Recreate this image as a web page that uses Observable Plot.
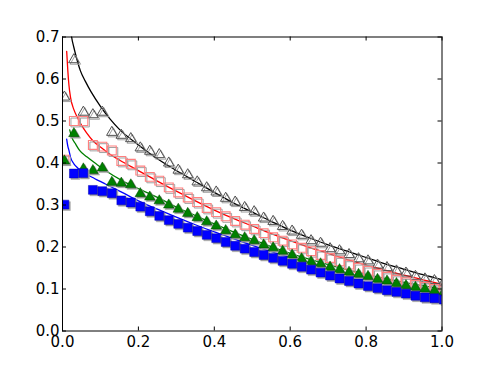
<!DOCTYPE html>
<html>
<head>
<meta charset="utf-8">
<script src="https://cdn.jsdelivr.net/npm/d3@7"></script>
<script src="https://cdn.jsdelivr.net/npm/@observablehq/plot@0.6"></script>
<style>
  html, body { margin: 0; padding: 0; background: #fff; }
  svg { display: block; }
</style>
</head>
<body>
<div id="chart"></div>
<script>
// Marker x positions
const xs = [0.005,0.03,0.055,0.08,0.105,0.13,0.155,0.18,0.205,0.23,0.255,0.28,0.305,0.33,0.355,0.38,0.405,0.43,0.455,0.48,0.505,0.53,0.555,0.58,0.605,0.63,0.655,0.68,0.705,0.73,0.755,0.78,0.805,0.83,0.855,0.88,0.905,0.93,0.955,0.98,1.005];

// Marker series
const grayTri = [0.557,0.646,0.521,0.515,0.521,0.473,0.466,0.458,0.436,0.428,0.42,0.40,0.383,0.372,0.355,0.341,0.331,0.316,0.307,0.294,0.284,0.269,0.261,0.249,0.238,0.228,0.215,0.209,0.196,0.191,0.182,0.172,0.167,0.157,0.151,0.143,0.138,0.130,0.124,0.120,0.116];
const pinkSq = [0.408,0.50,0.50,0.443,0.439,0.43,0.405,0.398,0.382,0.367,0.358,0.342,0.33,0.318,0.307,0.293,0.283,0.273,0.262,0.253,0.243,0.233,0.223,0.215,0.206,0.198,0.19,0.181,0.174,0.166,0.158,0.150,0.143,0.136,0.129,0.122,0.116,0.11,0.105,0.10,0.096];
const greenTri = [0.405,0.47,0.386,0.382,0.388,0.354,0.352,0.348,0.327,0.319,0.31,0.30,0.29,0.28,0.27,0.26,0.25,0.239,0.229,0.222,0.215,0.205,0.198,0.19,0.181,0.172,0.165,0.16,0.152,0.146,0.14,0.135,0.13,0.123,0.119,0.113,0.108,0.104,0.1,0.096,0.093];
const blueSq = [0.301,0.375,0.376,0.336,0.333,0.328,0.311,0.306,0.296,0.285,0.274,0.264,0.255,0.246,0.238,0.229,0.221,0.212,0.203,0.196,0.188,0.181,0.174,0.167,0.16,0.153,0.146,0.139,0.132,0.125,0.119,0.113,0.107,0.102,0.097,0.093,0.089,0.084,0.080,0.078,0.075];

// Curves
const blackX = [0.02,0.024,0.03,0.037,0.047,0.06,0.075,0.1,0.125,0.15,0.2,0.25,0.3,0.35,0.4,0.45,0.5,0.55,0.6,0.65,0.7,0.75,0.8,0.85,0.9,0.95,1];
const blackY = [0.73,0.70,0.675,0.65,0.62,0.595,0.57,0.535,0.505,0.48,0.443,0.41,0.382,0.356,0.33,0.305,0.283,0.261,0.24,0.222,0.205,0.19,0.175,0.16,0.147,0.134,0.122];
const redX = [0.011,0.014,0.017,0.021,0.03,0.039,0.05,0.065,0.08,0.1,0.125,0.15,0.2,0.25,0.3,0.35,0.4,0.45,0.5,0.55,0.6,0.65,0.7,0.75,0.8,0.85,0.9,0.95,1];
const redY = [0.666,0.62,0.585,0.557,0.527,0.509,0.49,0.47,0.453,0.438,0.421,0.407,0.382,0.357,0.333,0.31,0.288,0.268,0.25,0.232,0.215,0.199,0.185,0.17,0.157,0.145,0.133,0.122,0.111];
const greenX = [0.019,0.025,0.034,0.045,0.065,0.09,0.113,0.157,0.21,0.25,0.3,0.35,0.4,0.45,0.5,0.55,0.6,0.65,0.7,0.75,0.8,0.85,0.9,0.95,1];
const greenY = [0.479,0.46,0.446,0.43,0.414,0.397,0.382,0.358,0.335,0.318,0.295,0.275,0.255,0.236,0.218,0.201,0.185,0.171,0.158,0.146,0.135,0.125,0.116,0.108,0.1];
const blueX = [0.011,0.014,0.017,0.021,0.03,0.04,0.052,0.065,0.078,0.095,0.113,0.157,0.2,0.25,0.3,0.35,0.4,0.45,0.5,0.55,0.6,0.65,0.7,0.75,0.8,0.85,0.9,0.95,1];
const blueY = [0.457,0.44,0.43,0.414,0.398,0.388,0.378,0.372,0.366,0.358,0.35,0.33,0.31,0.29,0.271,0.253,0.236,0.22,0.204,0.189,0.175,0.162,0.149,0.137,0.126,0.115,0.104,0.094,0.085];

// Ticks
const xTicks = [0, 0.2, 0.4, 0.6, 0.8, 1.0];
const yTicks = [0, 0.1, 0.2, 0.3, 0.4, 0.5, 0.6, 0.7];

const W = 491, H = 368;
const mL = 62, mR = 49.5, mT = 36.5, mB = 37.5;
const innerW = W - mL - mR, innerH = H - mT - mB;
const tickLen = 4;

const pts = (ys) => xs.map((x, i) => ({x, y: ys[i]}));
const crv = (X, Y) => X.map((x, i) => ({x, y: Y[i]}));

const shadow = "#a0a0a0";
const sh = {dx: 1.5, dy: 1.5};
const rSq = 5, rTri = 3.9;

const chart = Plot.plot({
  width: W, height: H,
  marginLeft: mL, marginRight: mR, marginTop: mT, marginBottom: mB,
  style: {fontFamily: "'DejaVu Sans'", fontSize: "15px", background: "#fff", color: "#000"},
  x: {domain: [0, 1]},
  y: {domain: [0, 0.7]},
  marks: [
    // curves
    Plot.line(crv(blackX, blackY), {x: "x", y: "y", stroke: "#000", strokeWidth: 1.3, curve: "monotone-x", clip: true}),
    Plot.line(crv(redX, redY), {x: "x", y: "y", stroke: "#ff0000", strokeWidth: 1.3, curve: "monotone-x", clip: true}),
    Plot.line(crv(greenX, greenY), {x: "x", y: "y", stroke: "#008000", strokeWidth: 1.3, curve: "monotone-x", clip: true}),
    Plot.line(crv(blueX, blueY), {x: "x", y: "y", stroke: "#0000ff", strokeWidth: 1.3, curve: "monotone-x", clip: true}),
    // gray open triangles
    Plot.dot(pts(grayTri), {x: "x", y: "y", symbol: "triangle", r: rTri, stroke: shadow, strokeWidth: 1, fill: "none", ...sh, clip: true}),
    Plot.dot(pts(grayTri), {x: "x", y: "y", symbol: "triangle", r: rTri, stroke: "#505050", strokeWidth: 1, fill: "none", clip: true}),
    // pink open squares
    Plot.dot(pts(pinkSq), {x: "x", y: "y", symbol: "square", r: rSq, stroke: shadow, strokeWidth: 1, fill: "none", ...sh, clip: true}),
    Plot.dot(pts(pinkSq), {x: "x", y: "y", symbol: "square", r: rSq, stroke: "#ff8080", strokeWidth: 1.1, fill: "none", clip: true}),
    // green triangles
    Plot.dot(pts(greenTri), {x: "x", y: "y", symbol: "triangle", r: rTri, fill: shadow, stroke: shadow, strokeWidth: 0.5, ...sh, clip: true}),
    Plot.dot(pts(greenTri), {x: "x", y: "y", symbol: "triangle", r: rTri, fill: "#008000", stroke: "#004400", strokeWidth: 0.5, clip: true}),
    // blue squares
    Plot.dot(pts(blueSq), {x: "x", y: "y", symbol: "square", r: rSq, fill: shadow, stroke: shadow, strokeWidth: 0.5, ...sh, clip: true}),
    Plot.dot(pts(blueSq), {x: "x", y: "y", symbol: "square", r: rSq, fill: "#0000ff", stroke: "#0000aa", strokeWidth: 0.5, clip: true}),
    // inward ticks on all four sides
    Plot.tickY(yTicks, {y: d => d, stroke: "#000", strokeWidth: 1, insetRight: innerW - tickLen}),
    Plot.tickY(yTicks, {y: d => d, stroke: "#000", strokeWidth: 1, insetLeft: innerW - tickLen}),
    Plot.tickX(xTicks, {x: d => d, stroke: "#000", strokeWidth: 1, insetTop: innerH - tickLen}),
    Plot.tickX(xTicks, {x: d => d, stroke: "#000", strokeWidth: 1, insetBottom: innerH - tickLen}),
    Plot.frame({stroke: "#000", strokeWidth: 1}),
    Plot.axisY(yTicks, {tickSize: 0, tickPadding: 3, tickFormat: d3.format(".1f"), fontSize: 15, label: null}),
    Plot.axisX(xTicks, {tickSize: 0, tickPadding: 5.5, tickFormat: d3.format(".1f"), fontSize: 15, label: null})
  ]
});
document.getElementById("chart").appendChild(chart);
</script>
</body>
</html>
